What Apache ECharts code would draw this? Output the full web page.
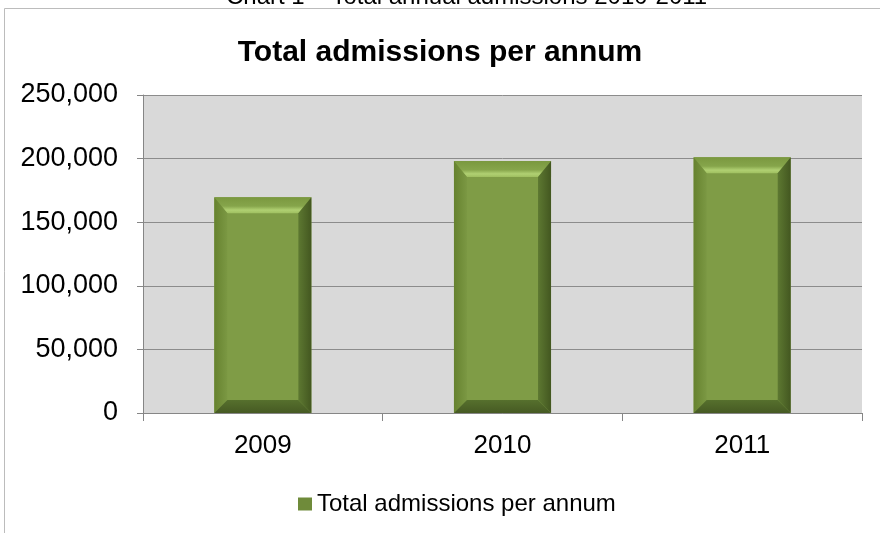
<!DOCTYPE html>
<html>
<head>
<meta charset="utf-8">
<style>html,body{margin:0;padding:0;background:#fff;}#c{width:880px;height:533px;}</style>
<script src="https://cdn.jsdelivr.net/npm/echarts@6/dist/echarts.min.js"></script>
</head>
<body>
<div id="c"></div>
<script>
var categories = ['2009', '2010', '2011'];
var admissions = [169600, 198100, 201000];
var seriesName = 'Total admissions per annum';
var chartTitle = 'Total admissions per annum';
var captionText = 'Chart 1 \u2013 Total annual admissions 2010-2011';
var yTicks = [0, 50000, 100000, 150000, 200000, 250000];

var chart = echarts.init(document.getElementById('c'), null, {renderer: 'canvas'});
var FONT = '"Liberation Sans", Arial, sans-serif';

function grad(x, y, x2, y2, c1, c2) {
  return {type: 'linear', x: x, y: y, x2: x2, y2: y2, global: false,
    colorStops: [{offset: 0, color: c1}, {offset: 1, color: c2}]};
}

function renderBar(params, api) {
  var xi = api.value(0), v = api.value(1);
  var top = api.coord([xi, v]);
  var bot = api.coord([xi, 0]);
  var bw = api.size([1, 0])[0] * 0.405;
  var l = top[0] - bw / 2, r = top[0] + bw / 2, t = top[1], b = bot[1];
  var d = 13;
  return {
    type: 'group',
    children: [
      {type: 'rect', shape: {x: l, y: t, width: r - l, height: b - t},
        style: {fill: '#7f9c46'}},
      // top bevel
      {type: 'polygon', shape: {points: [[l, t], [r, t], [r - d, t + d + 3], [l + d, t + d + 3]]},
        style: {fill: {type: 'linear', x: 0, y: 0, x2: 0, y2: 1, colorStops: [
          {offset: 0, color: '#7a983f'}, {offset: 0.55, color: '#86a54b'},
          {offset: 0.8, color: '#b0d072'}, {offset: 1, color: '#9fbf60'}]}}},
      // left bevel
      {type: 'polygon', shape: {points: [[l, t], [l + d, t + d + 3], [l + d, b - d], [l, b]]},
        style: {fill: grad(0, 0, 1, 0, '#66822f', '#7b9843')}},
      // right bevel
      {type: 'polygon', shape: {points: [[r, t], [r, b], [r - d, b - d], [r - d, t + d + 3]]},
        style: {fill: grad(0, 0, 1, 0, '#5d7831', '#435720')}},
      // bottom bevel
      {type: 'polygon', shape: {points: [[l, b], [l + d, b - d], [r - d, b - d], [r, b]]},
        style: {fill: grad(0, 0, 0, 1, '#56702d', '#465a23')}}
    ]
  };
}

var option = {
  backgroundColor: '#ffffff',
  animation: false,
  textStyle: {fontFamily: FONT},
  graphic: [
    {type: 'rect', shape: {x: 4.5, y: 8.5, width: 900, height: 600},
      style: {fill: null, stroke: '#bcbcbc', lineWidth: 1}, z: 0},
    {type: 'text', left: 226, top: -15,
      style: {text: captionText, font: '24px ' + FONT, fill: '#000'}}
  ],
  title: {
    text: chartTitle, left: 'center', top: 33,
    textStyle: {fontFamily: FONT, fontSize: 30, fontWeight: 'bold', color: '#000'}
  },
  legend: {
    left: 293, top: 487, itemWidth: 14, itemHeight: 13, icon: 'rect',
    data: [{name: seriesName, itemStyle: {color: '#6f8b3a'}}],
    textStyle: {fontFamily: FONT, fontSize: 24, color: '#000'}
  },
  grid: {left: 143, right: 18, top: 95, bottom: 120, show: true, backgroundColor: '#d9d9d9', borderWidth: 0},
  xAxis: {
    type: 'category', data: categories,
    axisLine: {lineStyle: {color: '#868686'}},
    axisTick: {show: true, length: 8, lineStyle: {color: '#868686'}},
    axisLabel: {fontFamily: FONT, fontSize: 26, color: '#000', margin: 20}
  },
  yAxis: {
    type: 'value', min: 0, max: 250000, interval: 50000,
    axisLine: {show: true, lineStyle: {color: '#868686'}},
    axisTick: {show: true, length: 6, lineStyle: {color: '#868686'}},
    splitLine: {lineStyle: {color: '#8c8c8c'}},
    axisLabel: {fontFamily: FONT, fontSize: 27, color: '#000', margin: 25,
      formatter: function (v) { return v.toLocaleString('en-US'); }}
  },
  series: [{
    type: 'custom', name: seriesName, renderItem: renderBar,
    itemStyle: {color: '#6f8b3a'},
    encode: {x: 0, y: 1},
    data: admissions.map(function (v, i) { return [i, v]; })
  }]
};
chart.setOption(option);
</script>
</body>
</html>
